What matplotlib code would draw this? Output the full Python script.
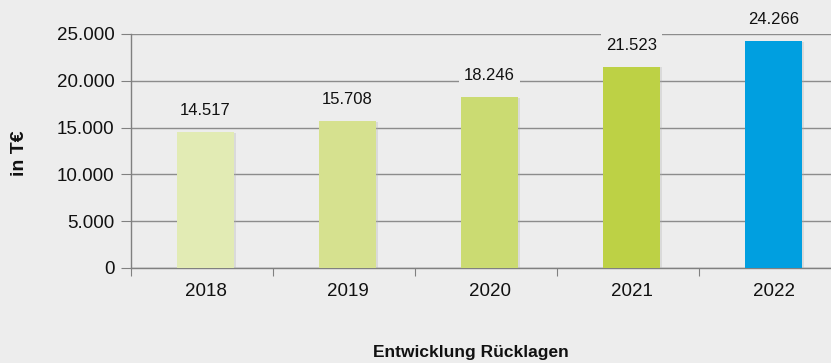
import matplotlib.pyplot as plt
import matplotlib.patheffects as pe

plt.rcParams['font.family'] = ['Liberation Sans', 'DejaVu Sans']

# data
years = ['2018', '2019', '2020', '2021', '2022']
values = [14517, 15708, 18246, 21523, 24266]
labels = ['14.517', '15.708', '18.246', '21.523', '24.266']
colors = ['#e2ebb4', '#d6e18f', '#cbdb72', '#bdd145', '#009fe0']
yticks = [0, 5000, 10000, 15000, 20000, 25000]
ytick_labels = ['0', '5.000', '10.000', '15.000', '20.000', '25.000']

bg = '#ededed'
fig = plt.figure(figsize=(8.31, 3.63), dpi=100, facecolor=bg)
ax = fig.add_axes([131/831, 1-268/363, 710/831, 234/363], facecolor=bg)

x = [i + 0.025 for i in range(len(years))]
bars = ax.bar(x, values, width=0.4, color=colors, zorder=3)
for b in bars:
    b.set_path_effects([pe.SimplePatchShadow(offset=(1.5, -0.5), shadow_rgbFace='#b0b0b0', alpha=0.3), pe.Normal()])

for xi, v, t in zip(x, values, labels):
    ax.annotate(t, (xi, v), xytext=(0, 10), textcoords='offset points', ha='center', va='bottom',
                fontsize=12, color='#111111', zorder=4,
                bbox=dict(boxstyle='square,pad=0.3', fc=bg, ec='none'))

ax.set_xlim(-0.5, len(years) - 0.5)
ax.set_ylim(0, 25000)
ax.set_yticks(yticks)
ax.set_yticklabels(ytick_labels, fontsize=13.5, color='#111111')
ax.set_xticks([i - 0.5 for i in range(len(years) + 1)], minor=False)
ax.set_xticklabels([])
ax.set_xticks(x, minor=True)
ax.set_xticklabels(years, minor=True, fontsize=13.5, color='#111111')
ax.tick_params(axis='x', which='major', length=6, color='#808080', direction='out')
ax.tick_params(axis='x', which='minor', length=0, pad=11)
ax.tick_params(axis='y', length=7, color='#808080', pad=5)

ax.yaxis.grid(True, color='#8c8c8c', linewidth=1, zorder=1)
for s in ['top', 'right']:
    ax.spines[s].set_visible(False)
for s in ['left', 'bottom']:
    ax.spines[s].set_color('#808080')
    ax.spines[s].set_linewidth(1)

fig.text(20/831, 1-153/363, 'in T€', rotation=90, ha='center', va='center',
         fontsize=14, fontweight='bold', color='#111111')
fig.text(471/831, 1-353/363, 'Entwicklung Rücklagen', ha='center', va='center',
         fontsize=12.5, fontweight='bold', color='#111111')

fig.savefig('out.png', dpi=100, facecolor=bg)
